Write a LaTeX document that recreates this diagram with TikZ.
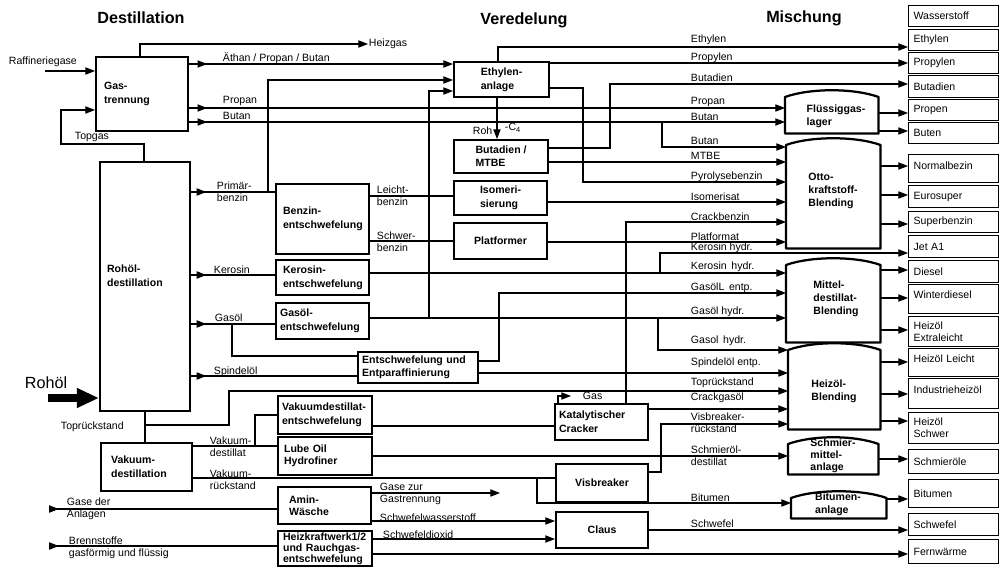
\documentclass[tikz,border=0pt]{standalone}
\usepackage{fontspec}
\setmainfont{Liberation Sans}
\usetikzlibrary{arrows.meta,decorations.markings}
\newcommand{\lblfont}{\fontsize{7.5}{8.5}\selectfont}
\newcommand{\boxfont}{\bfseries\fontsize{7.5}{10}\selectfont}
\tikzset{
  flow/.style={line width=0.8pt},
  arr/.style={flow, -{Triangle[length=2.4mm,width=1.8mm]}},
  tipat/.style={postaction={decorate}, decoration={markings, mark=at position #1 with {\arrow{Triangle[length=2.4mm,width=1.8mm]}}}},
  lbl/.style={font=\lblfont, align=left, inner sep=0.5pt, anchor=west},
  box/.style={draw, line width=1.5pt, font=\boxfont, align=left, anchor=north west, inner ysep=0pt},
  outbox/.style={draw, line width=0.9pt, font=\lblfont, align=left, anchor=north west, minimum width=2.25cm, text width=2cm, inner xsep=0.125cm, inner ysep=0pt},
  tank/.style={anchor=north west, inner sep=0pt},
  tanktext/.style={font=\bfseries\fontsize{7.5}{9.2}\selectfont, align=left, inner sep=0pt},
  tankline/.style={line width=1.6pt, line join=round},
  head/.style={font=\bfseries\fontsize{11.5}{13}\selectfont},
}

\begin{document}
\begin{tikzpicture}[x=0.025cm, y=-0.025cm]
    \path[fill=white, use as bounding box] (0,0) rectangle (1000,566);

    % headings
    \node[head] (hdest) at (141,18) {Destillation};
    \node[head] (hvered) at (524,20) {Veredelung};
    \node[head] (hmisch) at (804,18) {Mischung};

    % Destillation
    \node[box, minimum width=2.3cm, minimum height=1.85cm, text width=1.9cm, inner xsep=0.2cm] (gastr) at (95,56) {Gas-\\trennung};
    \node[box, minimum width=2.25cm, minimum height=6.225cm, text width=1.9cm, inner xsep=0.175cm, text depth=26pt] (rohd) at (99,161) {Rohöl-\\destillation};
    \node[box, minimum width=2.275cm, minimum height=1.2cm, text width=1.775cm, inner xsep=0.25cm] (vakd) at (100,442) {Vakuum-\\destillation};

    \node[box, minimum width=2.325cm, minimum height=1.75cm, text width=1.975cm, inner xsep=0.175cm] (benz) at (275,183) {Benzin-\\entschwefelung};
    \node[box, minimum width=2.325cm, minimum height=0.875cm, text width=1.975cm, inner xsep=0.175cm] (kero) at (275,259) {Kerosin-\\entschwefelung};
    \node[box, minimum width=2.325cm, minimum height=0.9cm, text width=2.125cm, inner xsep=0.1cm] (gaso) at (275,302) {Gasöl-\\entschwefelung};
    \node[box, minimum width=3cm, minimum height=0.775cm, text width=2.8cm, inner xsep=0.1cm, font=\bfseries\fontsize{7.5}{9.2}\selectfont] (entp) at (357,351) {Entschwefelung und\\Entparaffinierung};
    \node[box, minimum width=2.35cm, minimum height=0.95cm, text width=2.15cm, inner xsep=0.1cm] (vdes) at (277,395) {Vakuumdestillat-\\entschwefelung};
    \node[box, minimum width=2.35cm, minimum height=0.95cm, text width=2.05cm, inner xsep=0.15cm, font=\bfseries\fontsize{7.5}{8.5}\selectfont] (lube) at (277,436) {Lube Oil\\Hydrofiner};
    \node[box, minimum width=2.325cm, minimum height=0.925cm, text width=1.775cm, inner xsep=0.275cm, font=\bfseries\fontsize{7.5}{8.8}\selectfont] (amin) at (277,486) {Amin-\\Wäsche};
    \node[box, minimum width=2.35cm, minimum height=0.875cm, text width=2.1cm, inner xsep=0.125cm, font=\bfseries\fontsize{7.5}{7.8}\selectfont] (hkw) at (277,530) {Heizkraftwerk1/2\\und Rauchgas-\\entschwefelung};

    % Veredelung
    \node[box, minimum width=2.375cm, minimum height=0.875cm] (ethy) at (453,61) {Ethylen-\\anlage};
    \node[box, minimum width=2.35cm, minimum height=0.825cm, font=\bfseries\fontsize{7.5}{9.2}\selectfont] (buta) at (453,139) {Butadien /\\MTBE};
    \node[box, minimum width=2.325cm, minimum height=0.85cm] (isom) at (453,180) {Isomeri-\\sierung};
    \node[box, minimum width=2.325cm, minimum height=0.9cm] (plat) at (453,222) {Platformer};
    \node[box, minimum width=2.325cm, minimum height=0.9cm, text width=2.125cm, inner xsep=0.1cm] (katc) at (554,403) {Katalytischer\\Cracker};
    \node[box, minimum width=2.3cm, minimum height=0.95cm] (visb) at (555,463) {Visbreaker};
    \node[box, minimum width=2.3cm, minimum height=0.9cm] (claus) at (555,511) {Claus};

    % Mischung
    \node[tank, minimum width=2.325cm, minimum height=0.9cm] (fluess) at (785,97) {};
    \node[tank, minimum width=2.35cm, minimum height=2.575cm] (otto) at (786,145) {};
    \node[tank, minimum width=2.35cm, minimum height=1.925cm] (mittel) at (786,265) {};
    \node[tank, minimum width=2.3cm, minimum height=1.975cm] (heiz) at (788,350) {};
    \node[tank, minimum width=2.25cm, minimum height=0.75cm] (schmier) at (788,444) {};
    \node[tank, minimum width=2.375cm, minimum height=0.5cm] (bitum) at (791,498) {};
    \draw[tankline] (fluess.south west) -- (fluess.north west) .. controls +(25,-9) and +(-25,-9) .. (fluess.north east) -- (fluess.south east) -- cycle;
    \draw[tankline] (otto.south west) -- (otto.north west) .. controls +(25,-9) and +(-25,-9) .. (otto.north east) -- (otto.south east) -- cycle;
    \draw[tankline] (mittel.south west) -- (mittel.north west) .. controls +(25,-9) and +(-25,-9) .. (mittel.north east) -- (mittel.south east) -- cycle;
    \draw[tankline] (heiz.south west) -- (heiz.north west) .. controls +(25,-9) and +(-25,-9) .. (heiz.north east) -- (heiz.south east) -- cycle;
    \draw[tankline] (schmier.south west) -- (schmier.north west) .. controls +(25,-9) and +(-25,-9) .. (schmier.north east) -- (schmier.south east) -- cycle;
    \draw[tankline] (bitum.south west) -- (bitum.north west) .. controls +(25,-9) and +(-25,-9) .. (bitum.north east) -- (bitum.south east) -- cycle;
    \node[tanktext] (fluesst) at (836,116) {Flüssiggas-\\ lager};
    \node[tanktext] (ottot) at (833,191) {Otto-\\kraftstoff-\\Blending};
    \node[tanktext] (mittelt) at (836,299) {Mittel-\\destillat-\\Blending};
    \node[tanktext] (heizt) at (834,391) {Heizöl-\\Blending};
    \node[tanktext, font=\bfseries\fontsize{7.5}{8.5}\selectfont] (schmiert) at (833,456) {Schmier-\\mittel-\\anlage};
    \node[tanktext] (bitumt) at (838,504) {Bitumen-\\anlage};

    % Produkte
    \node[outbox, minimum height=0.525cm] (wass) at (908,5) {Wasserstoff};
    \node[outbox, minimum height=0.525cm] (ethb) at (908,29) {Ethylen};
    \node[outbox, minimum height=0.525cm] (propb) at (908,52) {Propylen};
    \node[outbox, minimum height=0.55cm] (butb) at (908,75) {Butadien};
    \node[outbox, minimum height=0.525cm] (propenb) at (908,99) {Propen};
    \node[outbox, minimum height=0.525cm] (butenb) at (908,122) {Buten};
    \node[outbox, minimum height=0.7cm, text depth=4pt] (normb) at (908,154) {Normalbezin};
    \node[outbox, minimum height=0.55cm] (eurob) at (908,185) {Eurosuper};
    \node[outbox, minimum height=0.525cm] (superb) at (908,211) {Superbenzin};
    \node[outbox, minimum height=0.55cm] (jetb) at (908,235) {Jet A1};
    \node[outbox, minimum height=0.55cm] (dieb) at (908,260) {Diesel};
    \node[outbox, minimum height=0.725cm, text depth=6pt] (winb) at (908,284) {Winterdiesel};
    \node[outbox, minimum height=0.75cm] (extb) at (908,316) {Heizöl\\Extraleicht};
    \node[outbox, minimum height=0.7cm, text depth=5pt] (leib) at (908,348) {Heizöl Leicht};
    \node[outbox, minimum height=0.75cm, text depth=5pt] (indb) at (908,378) {Industrieheizöl};
    \node[outbox, minimum height=0.775cm] (schwb) at (908,412) {Heizöl\\Schwer};
    \node[outbox, minimum height=0.6cm] (schmb) at (908,449) {Schmieröle};
    \node[outbox, minimum height=0.7cm] (bitb) at (908,479) {Bitumen};
    \node[outbox, minimum height=0.55cm] (schwfb) at (908,513) {Schwefel};
    \node[outbox, minimum height=0.6cm] (fernb) at (908,539) {Fernwärme};

    % Beschriftungen links
    \node[lbl] (lraff) at (8,62) {Raffineriegase};
    \node[lbl] (ltop) at (74,137) {Topgas};
    \node[lbl] (lheiz) at (368,44) {Heizgas};
    \node[lbl] (lapb) at (222,58) {Äthan / Propan / Butan};
    \node[lbl] (lpropan) at (222,101) {Propan};
    \node[lbl] (lbutan) at (222,116) {Butan};
    \node[lbl] (lprim) at (216,192) {Primär-\\benzin};
    \node[lbl] (lkero) at (213,270) {Kerosin};
    \node[lbl] (lgaso) at (214,318) {Gasöl};
    \node[lbl] (lspin) at (213,372) {Spindelöl};
    \node[lbl] (lleicht) at (376,196) {Leicht-\\benzin};
    \node[lbl] (lschwer) at (376,242) {Schwer-\\benzin};
    \node[lbl] (ltoprs) at (60,427) {Toprückstand};
    \node[lbl] (lvdest) at (209,447) {Vakuum-\\destillat};
    \node[lbl] (lvrs) at (209,480) {Vakuum-\\rückstand};
    \node[lbl] (lgased) at (66,509) {Gase der\\Anlagen};
    \node[lbl] (lbrenn) at (68,548) {Brennstoffe\\gasförmig und flüssig};
    \node[lbl] (lgasez) at (379,494) {Gase zur\\Gastrennung};
    \node[lbl] (lhzs) at (379,518) {Schwefelwasserstoff};
    \node[lbl] (lsoz) at (382,535) {Schwefeldioxid};
    \node[lbl] (lgas) at (582,396) {Gas};
    \node[lbl] (lroh) at (472,131) {Roh};
    \node[lbl] (lcvier) at (504,128) {-C\textsubscript{4}};
    \node[font=\fontsize{11.5}{13}\selectfont] (lrohoel) at (46,383) {Rohöl};

    % Beschriftungen rechts
    \node[lbl] (rethy) at (690,40) {Ethylen};
    \node[lbl] (rprop) at (690,58) {Propylen};
    \node[lbl] (rbuta) at (690,78) {Butadien};
    \node[lbl] (rpropan) at (690,102) {Propan};
    \node[lbl] (rbutan) at (690,117) {Butan};
    \node[lbl] (rbutanb) at (690,141) {Butan};
    \node[lbl] (rmtbe) at (690,156) {MTBE};
    \node[lbl] (rpyro) at (690,177) {Pyrolysebenzin};
    \node[lbl] (risom) at (690,197) {Isomerisat};
    \node[lbl] (rcrack) at (690,217) {Crackbenzin};
    \node[lbl] (rplat) at (690,237) {Platformat};
    \node[lbl] (rkeroa) at (690,248) {Kerosin hydr.};
    \node[lbl] (rkerob) at (690,267) {Kerosin\, hydr.};
    \node[lbl] (rgasent) at (690,288) {GasölL\, entp.};
    \node[lbl] (rgasa) at (690,312) {Gasöl hydr.};
    \node[lbl] (rgasb) at (690,341) {Gasol\, hydr.};
    \node[lbl] (rspin) at (690,363) {Spindelöl entp.};
    \node[lbl] (rtop) at (690,383) {Toprückstand};
    \node[lbl] (rcgas) at (690,398) {Crackgasöl};
    \node[lbl] (rvisb) at (690,423) {Visbreaker-\\rückstand};
    \node[lbl] (rschm) at (690,456) {Schmieröl-\\destillat};
    \node[lbl] (rbitu) at (690,498) {Bitumen};
    \node[lbl] (rschw) at (690,524) {Schwefel};

    % freie Enden
    \coordinate (raffin) at (45,71);
    \coordinate (rohin) at (48,398);
    \coordinate (gasin) at (50,509);
    \coordinate (brin) at (50,546);
    \coordinate (gasend) at (571,396);
    \coordinate (gzend) at (500,493);

    % Destillation
    \draw[arr] (raffin) -- (gastr.west |- raffin);
    \draw[arr] (rohd.north -| 144,0) |- (61,144) |- (gastr.west |- 0,110);
    \draw[arr] (gastr.north -| 140,0) |- (lheiz);
    \draw[arr, tipat=0.45cm] (gastr.east |- 0,64) -- (ethy.west |- 0,64);
    \draw[arr, tipat=0.45cm] (gastr.east |- 0,108) -- (fluess.west |- 0,108);
    \draw[arr, tipat=0.45cm] (gastr.east |- 0,122) -- (fluess.west |- 0,122);
    \draw[arr] (662,122) |- (otto.west |- 0,147);
    \draw[line width=5pt, -{Triangle[length=5.5mm,width=4.6mm]}] (rohin) -- (rohd.west |- rohin);
    \draw[flow, tipat=0.38cm] (rohd.east |- 0,192) -- (benz.west |- 0,192);
    \draw[arr] (268,192) |- (ethy.west |- 0,80);
    \draw[flow, tipat=0.38cm] (rohd.east |- 0,275) -- (kero.west |- 0,275);
    \draw[flow, tipat=0.38cm] (rohd.east |- 0,324) -- (gaso.west |- 0,324);
    \draw[flow] (232,324) |- (entp.west |- 0,356);
    \draw[flow, tipat=0.38cm] (rohd.east |- 0,376) -- (entp.west |- 0,376);
    \draw[flow] (rohd.south -| 145,0) -- (vakd.north -| 145,0);
    \draw[arr] (145,425) -| (229,391) -- (heiz.west |- 0,391);
    \draw[flow] (vakd.east |- 0,446) -- (lube.west |- 0,446);
    \draw[flow] (255,446) |- (vdes.west |- 0,415);
    \draw[flow] (vakd.east |- 0,478) -- (visb.west |- 0,478);
    \draw[arr] (537,478) |- (bitum.west |- 0,503);
    \draw[flow, tipat=0.22cm] (gasin) -- (amin.west |- gasin);
    \draw[flow, tipat=0.22cm] (brin) -- (hkw.west |- brin);

    % Entschwefelung
    \draw[flow] (benz.east |- 0,196) -- (isom.west |- 0,196);
    \draw[flow] (benz.east |- 0,241) -- (plat.west |- 0,241);
    \draw[arr] (kero.east |- 0,273) -- (mittel.west |- 0,273);
    \draw[arr] (660,273) |- (jetb.west |- 0,253);
    \draw[arr] (gaso.east |- 0,318) -- (mittel.west |- 0,318);
    \draw[arr] (429,318) |- (ethy.west |- 0,91);
    \draw[arr] (658,318) |- (heiz.west |- 0,350);
    \draw[arr] (entp.east |- 0,361) -| (499,293) -- (mittel.west |- 0,293);
    \draw[arr] (entp.east |- 0,373) -- (heiz.west |- 0,373);
    \draw[flow] (vdes.east |- 0,426) -- (katc.west |- 0,426);
    \draw[arr] (lube.east |- 0,456) -- (schmier.west |- 0,456);
    \draw[arr] (amin.east |- 0,493) -- (gzend);
    \draw[arr] (amin.east |- 0,521) -- (claus.west |- 0,521);
    \draw[arr] (hkw.east |- 0,539) -- (claus.west |- 0,539);
    \draw[arr] (hkw.east |- 0,554) -- (fernb.west |- 0,554);

    % Veredelung
    \draw[arr] (ethy.north -| 498,0) |- (ethb.west |- 0,47);
    \draw[arr] (ethy.east |- 0,63) -- (propb.west |- 0,63);
    \draw[arr] (ethy.east |- 0,88) -| (583,182) -- (otto.west |- 0,182);
    \draw[arr] (ethy.south -| 497,0) -- (buta.north -| 497,0);
    \draw[arr] (buta.east |- 0,148) -| (610,84) -- (butb.west |- 0,84);
    \draw[arr] (buta.east |- 0,162) -- (otto.west |- 0,162);
    \draw[arr] (isom.east |- 0,202) -- (otto.west |- 0,202);
    \draw[arr] (plat.east |- 0,242) -- (otto.west |- 0,242);
    \draw[arr] (katc.north -| 558,0) |- (gasend);
    \draw[arr] (katc.north -| 626,0) |- (otto.west |- 0,222);
    \draw[arr] (katc.east |- 0,409) -- (heiz.west |- 0,409);
    \draw[arr] (visb.east |- 0,472) -| (661,424) -- (heiz.west |- 0,424);
    \draw[arr] (claus.east |- 0,530) -- (schwfb.west |- 0,530);

    % Mischung
    \draw[arr] (fluess.east |- 0,113) -- (propenb.west |- 0,113);
    \draw[arr] (fluess.east |- 0,131) -- (butenb.west |- 0,131);
    \draw[arr] (otto.east |- 0,166) -- (normb.west |- 0,166);
    \draw[arr] (otto.east |- 0,195) -- (eurob.west |- 0,195);
    \draw[arr] (otto.east |- 0,224) -- (superb.west |- 0,224);
    \draw[arr] (mittel.east |- 0,270) -- (dieb.west |- 0,270);
    \draw[arr] (mittel.east |- 0,298) -- (winb.west |- 0,298);
    \draw[arr] (mittel.east |- 0,330) -- (extb.west |- 0,330);
    \draw[arr] (heiz.east |- 0,362) -- (leib.west |- 0,362);
    \draw[arr] (heiz.east |- 0,394) -- (indb.west |- 0,394);
    \draw[arr] (heiz.east |- 0,421) -- (schwb.west |- 0,421);
    \draw[arr] (schmier.east |- 0,459) -- (schmb.west |- 0,459);
    \draw[arr] (bitum.east |- 0,499) -- (bitb.west |- 0,499);
\end{tikzpicture}
\end{document}
